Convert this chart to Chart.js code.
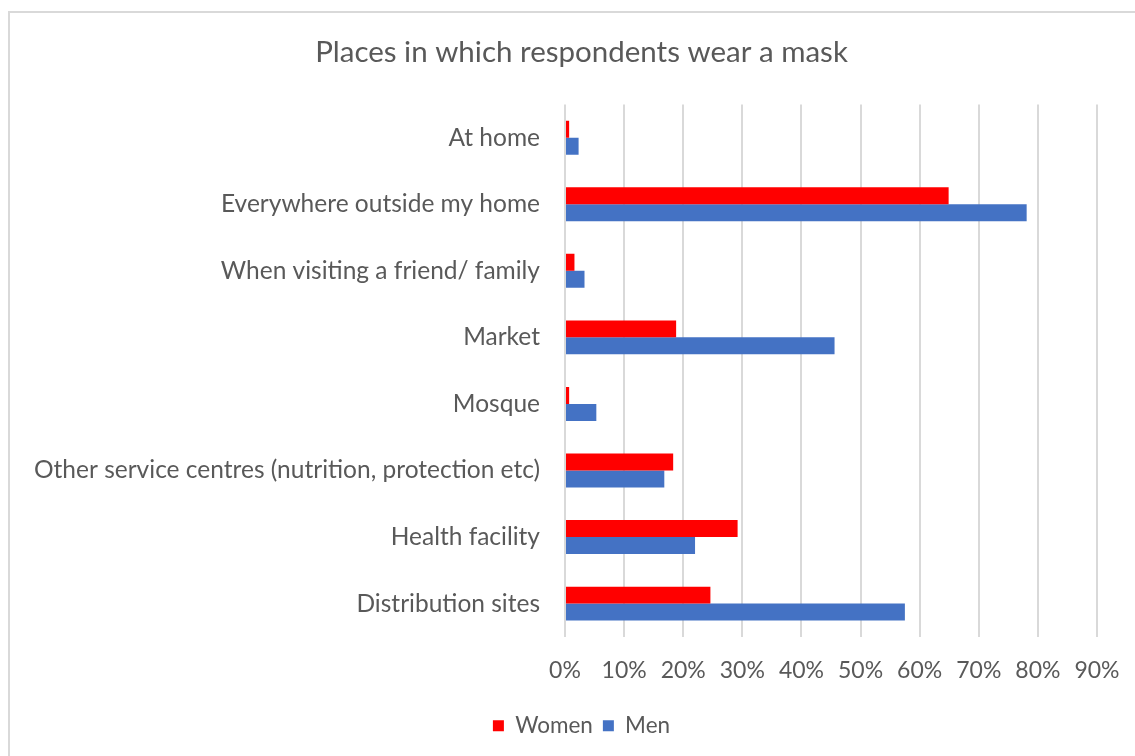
<!DOCTYPE html>
<html>
<head>
<meta charset="utf-8">
<script src="https://cdn.jsdelivr.net/npm/chart.js@4"></script>
<style>
  html, body { margin: 0; padding: 0; background: #fff; }
  #wrap { position: relative; width: 1135px; height: 756px; }
  #frame { position: absolute; left: 8px; top: 11px; width: 1140px; height: 760px; border: 2px solid #d9d9d9; box-sizing: border-box; }
  canvas { position: absolute; left: 0; top: 0; }
</style>
</head>
<body>
<div id="wrap">
  <div id="frame"></div>
  <canvas id="chart" width="1135" height="756"></canvas>
</div>
<script>
// categories + series (percent)
const places = [
  'At home',
  'Everywhere outside my home',
  'When visiting a friend/ family',
  'Market',
  'Mosque',
  'Other service centres (nutrition, protection etc)',
  'Health facility',
  'Distribution sites'
];
const women = [0.7, 64.9, 1.6, 18.8, 0.7, 18.3, 29.2, 24.6];
const men   = [2.3, 78.1, 3.3, 45.6, 5.3, 16.8, 22.0, 57.5];
const xTicks = [0, 10, 20, 30, 40, 50, 60, 70, 80, 90];

const textGrey = '#595959';
const fontFam = 'Lato, "Liberation Sans", sans-serif';

// Excel centres title/legend a bit right of the canvas middle: nudge those boxes
const nudgeBoxes = {
  id: 'nudgeBoxes',
  afterLayout(chart) {
    const shift = 33;
    [chart.legend, chart.titleBlock].forEach(b => {
      if (!b) return;
      b.left += shift;
      b.right += shift;
    });
  }
};

const chart = new Chart(document.getElementById('chart'), {
  type: 'bar',
  data: {
    labels: places,
    datasets: [
      { label: 'Women', data: women, backgroundColor: '#ff0000', categoryPercentage: 0.51, barPercentage: 1.0 },
      { label: 'Men', data: men, backgroundColor: '#4472c4', categoryPercentage: 0.51, barPercentage: 1.0 }
    ]
  },
  options: {
    indexAxis: 'y',
    responsive: false,
    animation: false,
    layout: { padding: { top: 35, right: 38, bottom: 9, left: 0 } },
    plugins: {
      title: {
        display: true,
        text: 'Places in which respondents wear a mask',
        color: textGrey,
        font: { family: fontFam, size: 29.5, weight: 'normal' },
        padding: { top: 0, bottom: 34 }
      },
      legend: {
        position: 'bottom',
        labels: {
          color: textGrey,
          font: { family: fontFam, size: 22.5 },
          boxWidth: 11,
          boxHeight: 11,
          padding: 10
        }
      },
      tooltip: { enabled: false }
    },
    scales: {
      x: {
        min: 0,
        max: 90,
        afterBuildTicks: (axis) => { axis.ticks = xTicks.map(v => ({ value: v })); },
        afterFit: (axis) => { axis.paddingLeft = 0; axis.paddingRight = 0; },
        ticks: {
          color: textGrey,
          font: { family: fontFam, size: 23 },
          padding: 20,
          callback: v => v + '%'
        },
        grid: { color: '#d9d9d9', lineWidth: 2, drawTicks: false },
        border: { display: false }
      },
      y: {
        afterFit: (axis) => { axis.width = 565; },
        ticks: {
          color: textGrey,
          font: { family: fontFam, size: 24.5 },
          padding: 25
        },
        grid: { display: false, drawTicks: false },
        border: { display: false }
      }
    }
  },
  plugins: [nudgeBoxes]
});
</script>
</body>
</html>
